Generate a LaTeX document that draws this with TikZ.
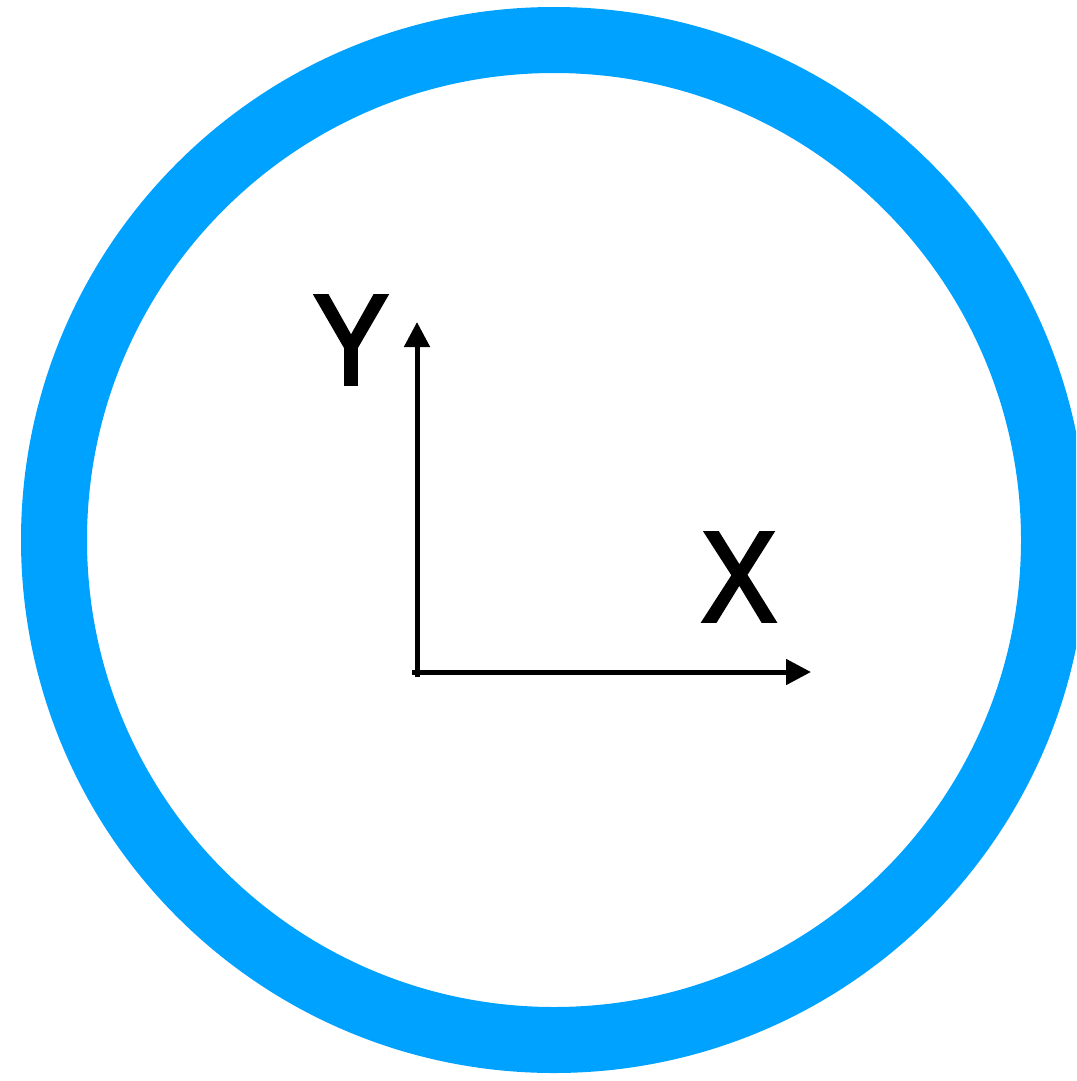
\documentclass[tikz,border=0pt]{standalone}
\usepackage{fontspec}
\setmainfont{Liberation Sans}
\newfontfamily\lblfont[FakeBold=3]{Liberation Sans}
\usetikzlibrary{arrows.meta}
\definecolor{ringblue}{RGB}{0,162,255}
\begin{document}
\begin{tikzpicture}[x=1pt,y=-1pt,
  ring/.style={draw=ringblue,line width=66pt},
  axis/.style={draw=black,line width=5pt,-{Triangle[length=25pt,width=25pt]}},
  lbl/.style={inner sep=0pt,anchor=base,xscale=0.88,font=\lblfont\fontsize{128}{128}\selectfont}]
\useasboundingbox (0,0) rectangle (1076,1081);
\clip (0,0) rectangle (1076,1081);
\fill[white] (0,0) rectangle (1076,1081);
\draw[ring] (554,540) circle (500);
\coordinate (ybot) at (417,677);
\coordinate (ytip) at (417,322);
\coordinate (xleft) at (412,672);
\coordinate (xtip) at (811,672);
\draw[axis] (ybot) -- (ytip);
\draw[axis] (xleft) -- (xtip);
\node[lbl] (ylab) at (351,384) {Y};
\node[lbl] (xlab) at (739,621) {X};
\end{tikzpicture}
\end{document}
